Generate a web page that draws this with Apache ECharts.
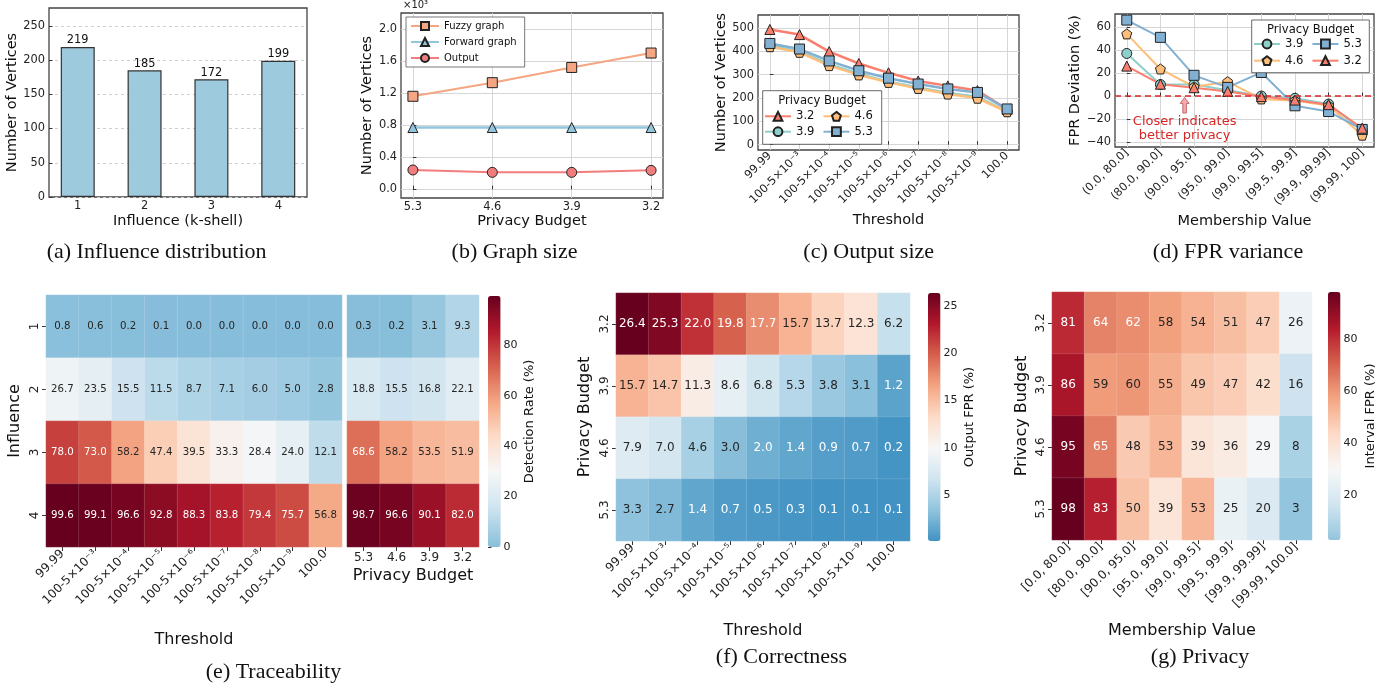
<!DOCTYPE html>
<html><head><meta charset="utf-8">
<script src="https://cdn.jsdelivr.net/npm/echarts@6/dist/echarts.min.js"></script>
<style>html,body{margin:0;padding:0;background:#fff}#c{width:1393px;height:687px}</style>
</head><body><div id="c"></div><script>
// ---------------- DATA ----------------
const influenceCats = ['1','2','3','4'];
const influenceCounts = [219,185,172,199];
const countTicks = [0,50,100,150,200,250];

const budgetCats = ['5.3','4.6','3.9','3.2'];
const fuzzyGraph = [1.16,1.33,1.52,1.70];
const forwardGraph = [0.77,0.77,0.77,0.77];
const outputGraph = [0.24,0.21,0.21,0.235];
const graphTicks = [0,0.4,0.8,1.2,1.6,2.0];

const thresholdCats = ['99.99','100-5×10⁻³','100-5×10⁻⁴','100-5×10⁻⁵','100-5×10⁻⁶','100-5×10⁻⁷','100-5×10⁻⁸','100-5×10⁻⁹','100.0'];
const outB32 = [494,472,399,348,308,273,252,232,152];
const outB39 = [425,400,345,303,270,245,222,205,142];
const outB46 = [420,396,339,299,267,241,217,199,141];
const outB53 = [434,410,359,317,285,260,239,224,153];
const outTicks = [0,100,200,300,400,500];

const memberOpenCats = ['(0.0, 80.0]','(80.0, 90.0]','(90.0, 95.0]','(95.0, 99.0]','(99.0, 99.5]','(99.5, 99.9]','(99.9, 99.99]','(99.99, 100]'];
const devB39 = [37,10,10,5,0,-2,-7,-30];
const devB46 = [54,23.5,8,12.5,-2.5,-4,-8.5,-34];
const devB53 = [66,51,18,7.5,20.5,-8.5,-13.5,-29];
const devB32 = [26,10.3,7.2,4,-0.5,-3.5,-7.5,-28];
const devTicks = [-40,-20,0,20,40,60];

const influenceRows = ['1','2','3','4'];
const traceThreshold = [
  [0.8,0.6,0.2,0.1,0.0,0.0,0.0,0.0,0.0],
  [26.7,23.5,15.5,11.5,8.7,7.1,6.0,5.0,2.8],
  [78.0,73.0,58.2,47.4,39.5,33.3,28.4,24.0,12.1],
  [99.6,99.1,96.6,92.8,88.3,83.8,79.4,75.7,56.8]
];
const traceBudget = [
  [0.3,0.2,3.1,9.3],
  [18.8,15.5,16.8,22.1],
  [68.6,58.2,53.5,51.9],
  [98.7,96.6,90.1,82.0]
];
const traceTicks = [0,20,40,60,80];

const budgetRows = ['3.2','3.9','4.6','5.3'];
const correctFPR = [
  [26.4,25.3,22.0,19.8,17.7,15.7,13.7,12.3,6.2],
  [15.7,14.7,11.3,8.6,6.8,5.3,3.8,3.1,1.2],
  [7.9,7.0,4.6,3.0,2.0,1.4,0.9,0.7,0.2],
  [3.3,2.7,1.4,0.7,0.5,0.3,0.1,0.1,0.1]
];
const correctTicks = [5,10,15,20,25];

const memberClosedCats = ['[0.0, 80.0]','[80.0, 90.0]','[90.0, 95.0]','[95.0, 99.0]','[99.0, 99.5]','[99.5, 99.9]','[99.9, 99.99]','[99.99, 100.0]'];
const privacyFPR = [
  [81,64,62,58,54,51,47,26],
  [86,59,60,55,49,47,42,16],
  [95,65,48,53,39,36,29,8],
  [98,83,50,39,53,25,20,3]
];
const privacyTicks = [20,40,60,80];

// ---------------- COLOR HELPERS ----------------
const RDBU_R = ['#053061','#2166ac','#4393c3','#92c5de','#d1e5f0','#f7f7f7','#fddbc7','#f4a582','#d6604d','#b2182b','#67001f'];
const hex2rgb = h => [parseInt(h.slice(1,3),16),parseInt(h.slice(3,5),16),parseInt(h.slice(5,7),16)];
const RDBU_RGB = RDBU_R.map(hex2rgb);
function cmap(t){t=Math.max(0,Math.min(1,t));const s=t*10;const i=Math.min(9,Math.floor(s));const f=s-i;const a=RDBU_RGB[i],b=RDBU_RGB[i+1];return a.map((v,k)=>Math.round(v+(b[k]-v)*f));}
function centered(vmin,vmax,c){const r=Math.max(vmax-c,c-vmin);return v=>cmap((v-(c-r))/(2*r));}
const rgbStr = c => 'rgb('+c.join(',')+')';
function lum(c){const l=c.map(v=>{v/=255;return v<=0.03928?v/12.92:Math.pow((v+0.055)/1.055,2.4);});return 0.2126*l[0]+0.7152*l[1]+0.0722*l[2];}
function ramp(vmin,vmax,c,n){const f=centered(vmin,vmax,c);const o=[];for(let i=0;i<=n;i++)o.push(rgbStr(f(vmin+(vmax-vmin)*i/n)));return o;}
function heatData(m,scale){const o=[];m.forEach((row,yi)=>row.forEach((v,xi)=>{const c=scale(v);o.push({value:[xi,yi,v],label:{color:lum(c)>0.408?'#262626':'#ffffff'}});}));return o;}
const flat = m => m.reduce((a,r)=>a.concat(r),[]);

const eAll = flat(traceThreshold).concat(flat(traceBudget));
const eMin = Math.min(...eAll), eMax = Math.max(...eAll), eCenter = 30;
const fMin = Math.min(...flat(correctFPR)), fMax = Math.max(...flat(correctFPR)), fCenter = 10;
const gMin = Math.min(...flat(privacyFPR)), gMax = Math.max(...flat(privacyFPR)), gCenter = 30;
const eScale = centered(eMin,eMax,eCenter), fScale = centered(fMin,fMax,fCenter), gScale = centered(gMin,gMax,gCenter);

// ---------------- STYLE ----------------
const FONT = 'DejaVu Sans';
const C_RED='#FA7F6F', C_ORG='#FFBE7A', C_TEAL='#8ECFC9', C_BLUE='#82B0D2';
const PENTA = 'path://M0,-1 L0.951,-0.309 L0.588,0.809 L-0.588,0.809 L-0.951,-0.309 Z';
const idx = a => a.map((v,i)=>[i,v]);

function valAxis(o){
  return {
    type:'value', gridIndex:o.grid, min:o.min, max:o.max,
    axisLine:{show:false},
    axisTick:{show:true, inside:true, length:3.5, customValues:o.ticks, lineStyle:{color:'#333'}},
    axisLabel:{customValues:o.ticks, formatter:o.fmt, fontSize:11.4, color:'#222', margin:4, rotate:o.rotate||0},
    splitLine:{show:o.split!==false, lineStyle:o.splitStyle||{color:'#d6d6d6',width:1}},
    name:o.name, nameLocation:'middle', nameGap:o.gap, nameTextStyle:{fontSize:14.5,color:'#111',fontFamily:FONT}
  };
}
function heatX(grid,cats,o){
  return {type:'category',gridIndex:grid,data:cats,axisLine:{show:false},
    axisTick:{show:true,alignWithLabel:true,length:4,lineStyle:{color:'#333'}},
    axisLabel:{interval:0,rotate:o.rotate||0,fontSize:12,color:'#222',margin:5},
    splitLine:{show:false},
    name:o.name,nameLocation:'middle',nameGap:o.gap,nameTextStyle:{fontSize:16,color:'#111'}};
}
function heatY(grid,cats,o){
  return {type:'category',gridIndex:grid,data:cats,inverse:true,axisLine:{show:false},
    axisTick:{show:o.show!==false,alignWithLabel:true,length:4,lineStyle:{color:'#333'}},
    axisLabel:{show:o.show!==false,interval:0,rotate:90,fontSize:12,color:'#222',margin:5},
    splitLine:{show:false},
    name:o.name,nameLocation:'middle',nameGap:o.gap,nameTextStyle:{fontSize:16,color:'#111'}};
}
function cbAxes(grid,min,max,ticks,name,gap){
  return [
    {type:'value',gridIndex:grid,min:0,max:1,show:false},
    {type:'value',gridIndex:grid,min:min,max:max,position:'right',
     axisLine:{show:false},axisTick:{show:true,length:3.5,customValues:ticks,lineStyle:{color:'#333'}},
     axisLabel:{customValues:ticks,fontSize:11,color:'#222',margin:3},splitLine:{show:false},
     name:name,nameLocation:'middle',nameGap:gap,nameTextStyle:{fontSize:13,color:'#111'}}
  ];
}
const cbE = cbAxes(6,eMin,eMax,traceTicks,'Detection Rate (%)',23);
const cbF = cbAxes(8,fMin,fMax,correctTicks,'Output FPR (%)',23);
const cbG = cbAxes(10,gMin,gMax,privacyTicks,'Interval FPR (%)',24);

function lineSeries(name,x,y,data,color,symbol,lw){
  return {type:'line',name:name,xAxisIndex:x,yAxisIndex:y,data:idx(data),symbol:symbol,symbolSize:10,
    lineStyle:{color:color,width:lw},itemStyle:{color:color,borderColor:'#222',borderWidth:1},
    emphasis:{disabled:true},z:3};
}
function heatSeries(name,x,y,m,scale,fs,digits){
  return {type:'heatmap',name:name,xAxisIndex:x,yAxisIndex:y,data:heatData(m,scale),
    itemStyle:{borderColor:'rgba(255,255,255,0.25)',borderWidth:0.5},
    label:{show:true,fontSize:fs,fontFamily:FONT,formatter:p=>p.value[2].toFixed(digits)},
    emphasis:{disabled:true}};
}
const gridBox = {show:true,borderColor:'#444',borderWidth:1.3,backgroundColor:'transparent'};
const legendBase = {selectedMode:false,itemWidth:26,itemHeight:11,itemGap:8,textStyle:{fontSize:11.6,color:'#111'},padding:0,z:12};

const option = {
  animation:false,
  textStyle:{fontFamily:FONT},
  grid:[
    Object.assign({left:49,top:8,width:258,height:189},gridBox),
    Object.assign({left:401,top:13,width:262,height:185},gridBox),
    Object.assign({left:758,top:15,width:261,height:135},gridBox),
    Object.assign({left:1115,top:14,width:259,height:133},gridBox),
    {left:46,top:295,width:296,height:252},
    {left:347,top:295,width:132,height:252},
    {left:488,top:296,width:12.6,height:251},
    {left:616,top:293,width:294,height:248},
    {left:928,top:293,width:12.5,height:248},
    {left:1052,top:292,width:260,height:248},
    {left:1328,top:292,width:12.5,height:248}
  ],
  xAxis:[
    valAxis({grid:0,min:0.57,max:4.43,ticks:[1,2,3,4],fmt:v=>influenceCats[Math.round(v)-1],split:false,name:'Influence (k-shell)',gap:16.5}),
    valAxis({grid:1,min:-0.15,max:3.15,ticks:[0,1,2,3],fmt:v=>budgetCats[Math.round(v)],name:'Privacy Budget',gap:15.5}),
    valAxis({grid:2,min:-0.4,max:8.4,ticks:[0,1,2,3,4,5,6,7,8],fmt:v=>thresholdCats[Math.round(v)],rotate:45,name:'Threshold',gap:62.5}),
    valAxis({grid:3,min:-0.35,max:7.35,ticks:[0,1,2,3,4,5,6,7],fmt:v=>memberOpenCats[Math.round(v)],rotate:45,name:'Membership Value',gap:66.5}),
    heatX(4,thresholdCats,{rotate:45,name:'Threshold',gap:85}),
    heatX(5,budgetCats,{name:'Privacy Budget',gap:21}),
    cbE[0],
    heatX(7,thresholdCats,{rotate:45,name:'Threshold',gap:82}),
    cbF[0],
    heatX(9,memberClosedCats,{rotate:45,name:'Membership Value',gap:82.5}),
    cbG[0]
  ],
  yAxis:[
    valAxis({grid:0,min:0,max:276,ticks:countTicks,fmt:v=>String(v),splitStyle:{color:'#cfcfcf',type:[3,3],width:1},name:'Number of Vertices',gap:28}),
    valAxis({grid:1,min:-0.11,max:2.2,ticks:graphTicks,fmt:v=>v.toFixed(1),name:'Number of Vertices',gap:25}),
    valAxis({grid:2,min:-23,max:556,ticks:outTicks,fmt:v=>String(v),name:'Number of Vertices',gap:25.5}),
    valAxis({grid:3,min:-44.3,max:71.3,ticks:devTicks,fmt:v=>v<0?'\u2212'+Math.abs(v):String(v),name:'FPR Deviation (%)',gap:25.8}),
    heatY(4,influenceRows,{name:'Influence',gap:23}),
    heatY(5,influenceRows,{show:false}),
    cbE[1],
    heatY(7,budgetRows,{name:'Privacy Budget',gap:23}),
    cbF[1],
    heatY(9,budgetRows,{name:'Privacy Budget',gap:22.3}),
    cbG[1]
  ],
  legend:[
    {data:['Fuzzy graph','Forward graph','Output'],orient:'vertical',left:406,top:17,itemWidth:28,itemHeight:10,itemGap:6,
     padding:[4,8,4,4],backgroundColor:'#fff',borderColor:'#555',borderWidth:0.8,textStyle:{fontSize:10,color:'#111'},selectedMode:false},
    Object.assign({data:['3.2','4.6'],left:764,top:110.3},legendBase),
    Object.assign({data:['3.9','5.3'],left:764,top:125.7},legendBase),
    Object.assign({data:['3.9','5.3'],left:1253,top:38},legendBase),
    Object.assign({data:['4.6','3.2'],left:1253,top:54.7},legendBase)
  ],
  visualMap:[
    {type:'continuous',seriesIndex:[12,13],dimension:2,min:eMin,max:eMax,inRange:{color:ramp(eMin,eMax,eCenter,40)},
     calculable:false,hoverLink:false,left:488,top:296,itemWidth:12.6,itemHeight:251,padding:0},
    {type:'continuous',seriesIndex:[14],dimension:2,min:fMin,max:fMax,inRange:{color:ramp(fMin,fMax,fCenter,40)},
     calculable:false,hoverLink:false,left:928,top:293,itemWidth:12.5,itemHeight:248,padding:0},
    {type:'continuous',seriesIndex:[15],dimension:2,min:gMin,max:gMax,inRange:{color:ramp(gMin,gMax,gCenter,40)},
     calculable:false,hoverLink:false,left:1328,top:292,itemWidth:12.5,itemHeight:248,padding:0}
  ],
  series:[
    {type:'bar',name:'count',xAxisIndex:0,yAxisIndex:0,data:influenceCounts.map((v,i)=>[i+1,v]),barWidth:34,
     itemStyle:{color:'#9DCADC',borderColor:'#333',borderWidth:1.2},
     label:{show:true,position:'top',distance:1,fontSize:11.4,color:'#111'},emphasis:{disabled:true}},
    lineSeries('Fuzzy graph',1,1,fuzzyGraph,'#F4A582','rect',2),
    lineSeries('Forward graph',1,1,forwardGraph,'#92C5DE','triangle',2.5),
    lineSeries('Output',1,1,outputGraph,'#F27D7D','circle',2),
    lineSeries('3.2',2,2,outB32,C_RED,'triangle',2.5),
    lineSeries('3.9',2,2,outB39,C_TEAL,'circle',2.5),
    lineSeries('4.6',2,2,outB46,C_ORG,PENTA,2.5),
    lineSeries('5.3',2,2,outB53,C_BLUE,'rect',2.5),
    lineSeries('3.9',3,3,devB39,C_TEAL,'circle',2),
    lineSeries('4.6',3,3,devB46,C_ORG,PENTA,2),
    lineSeries('5.3',3,3,devB53,C_BLUE,'rect',2),
    Object.assign(lineSeries('3.2',3,3,devB32,C_RED,'triangle',2),{
      markLine:{silent:true,symbol:'none',label:{show:false},lineStyle:{color:'#D62728',type:[6,4],width:1.5},data:[{yAxis:0}]}}),
    heatSeries('traceThreshold',4,4,traceThreshold,eScale,10.2,1),
    heatSeries('traceBudget',5,5,traceBudget,eScale,10.2,1),
    heatSeries('correctness',7,7,correctFPR,fScale,12,1),
    heatSeries('privacy',9,9,privacyFPR,gScale,12,0)
  ]
};

const chart = echarts.init(document.getElementById('c'),null,{renderer:'canvas',width:1393,height:687});
chart.setOption(option);

// ---------------- ANNOTATIONS / CAPTIONS ----------------
const annotX = 1.72, annotTip = -1.2, annotBase = -14.8, annotText = -28.6;
const tip = chart.convertToPixel({gridIndex:3},[annotX,annotTip]);
const base = chart.convertToPixel({gridIndex:3},[annotX,annotBase]);
const tpos = chart.convertToPixel({gridIndex:3},[annotX,annotText]);
const ax = tip[0], hw = 4.5, sw = 1.8, hl = 6;
const serif = 'Liberation Serif';
const cap = (t,x,y) => ({type:'text',x:x,y:y,style:{text:t,fontFamily:serif,fontSize:22,fill:'#111',textAlign:'center',textVerticalAlign:'middle'}});
chart.setOption({graphic:[
  {type:'polygon',z:20,shape:{points:[[ax-sw,base[1]],[ax-sw,tip[1]+hl],[ax-hw,tip[1]+hl],[ax,tip[1]],[ax+hw,tip[1]+hl],[ax+sw,tip[1]+hl],[ax+sw,base[1]]]},
   style:{fill:'#F6A9AC',stroke:'#B5535A',lineWidth:0.8}},
  {type:'text',z:20,x:tpos[0],y:tpos[1],style:{text:'Closer indicates\nbetter privacy',fontFamily:FONT,fontSize:13,lineHeight:14,fill:'#D62728',textAlign:'center',textVerticalAlign:'middle'}},
  {type:'text',x:403,y:5,style:{text:'×10³',fontFamily:FONT,fontSize:10,fill:'#222',textVerticalAlign:'middle'}},
  {type:'rect',z:10,shape:{x:762.7,y:90.7,width:119,height:53.6},style:{fill:'#fff',stroke:'#444',lineWidth:0.8}},
  {type:'text',z:11,x:822,y:100.7,style:{text:'Privacy Budget',fontFamily:FONT,fontSize:11.6,fill:'#111',textAlign:'center',textVerticalAlign:'middle'}},
  {type:'rect',z:10,shape:{x:1251.7,y:20,width:117.6,height:52.7},style:{fill:'#fff',stroke:'#444',lineWidth:0.8}},
  {type:'text',z:11,x:1310.7,y:30,style:{text:'Privacy Budget',fontFamily:FONT,fontSize:11.6,fill:'#111',textAlign:'center',textVerticalAlign:'middle'}},
  cap('(a) Influence distribution',156.6,252),
  cap('(b) Graph size',514.5,252),
  cap('(c) Output size',868.7,252),
  cap('(d) FPR variance',1228,252),
  cap('(e) Traceability',273.5,672),
  cap('(f) Correctness',781.5,657),
  cap('(g) Privacy',1200,657)
]});
</script></body></html>
